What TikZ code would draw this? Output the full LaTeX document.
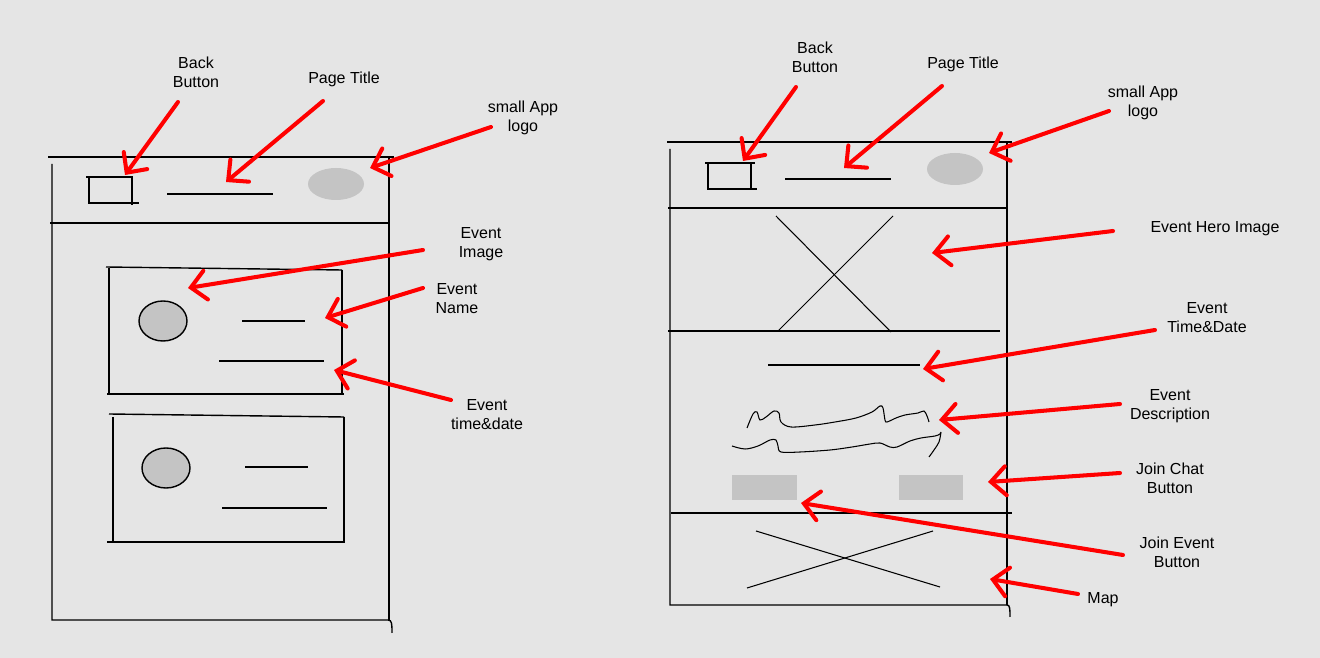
\documentclass[tikz,border=0pt]{standalone}
\usepackage{fontspec}
\setmainfont{Liberation Sans}
\usetikzlibrary{arrows.meta}
\definecolor{bgc}{HTML}{E5E5E5}
\definecolor{boxgray}{HTML}{C4C4C4}
\definecolor{arred}{HTML}{FF0000}
\tikzset{
  sk/.style={line width=0.8pt, black},
  thin sk/.style={line width=0.6pt, black},
  callout/.style={line width=2.3pt, arred, line cap=round,
    -{Straight Barb[length=8.5pt,width=16.5pt,line cap=round]}},
  lbl/.style={align=center, font=\fontsize{9.1}{10.8}\selectfont, inner sep=0pt, yshift=-1.5pt},
}
\begin{document}
\begin{tikzpicture}[x=0.02cm,y=-0.02cm]
\fill[bgc] (0,0) rectangle (1320,658);
\useasboundingbox (0,0) rectangle (1320,658);

%%%%%%%%%%%%%%%% LEFT MOCKUP
\draw[sk] (48,157) -- (394,157);
\draw[sk] (52,164) -- (52,620) -- (388,620) .. controls (392,620) and (392,624) .. (392,633);
\draw[sk] (389,157) -- (389,620);
\draw[sk] (50,223) -- (389,223);
% back button
\draw[sk] (86,177) -- (133,177);
\draw[sk] (89,177) -- (89,203) -- (139,203);
\draw[sk] (132,177) -- (132,205);
% title line
\draw[sk] (167,194) -- (273,194);
% logo
\fill[boxgray] (336,184) ellipse [x radius=28, y radius=16];
% card 1
\draw[sk] (106,267) -- (342,270);
\draw[sk] (109,268) -- (109,394);
\draw[sk] (342,270) -- (342,394);
\draw[sk] (107,394) -- (344,394);
\draw[sk, fill=boxgray] (163,321) ellipse [x radius=24, y radius=20];
\draw[sk] (242,321) -- (305,321);
\draw[sk] (219,361) -- (324,361);
% card 2
\draw[sk] (109,414) -- (344,417);
\draw[sk] (113,417) -- (113,542);
\draw[sk] (344,417) -- (344,542);
\draw[sk] (107,542) -- (345,542);
\draw[sk, fill=boxgray] (166,468) ellipse [x radius=24, y radius=20];
\draw[sk] (245,467) -- (308,467);
\draw[sk] (222,508) -- (327,508);

% labels left
\node[lbl] (lback) at (196,70) {Back\\Button};
\node[lbl] (ltitle) at (344,77) {Page Title};
\node[lbl] (llogo) at (523,115) {small App\\logo};
\node[lbl] (limg) at (481,242) {Event\\Image};
\node[lbl] (lname) at (457,296) {Event\\Name};
\node[lbl] (ltime) at (487,412) {Event\\time\&date};

% arrow coordinates left
\coordinate (a1s) at (178,102); \coordinate (a1e) at (125,175);
\coordinate (a2s) at (323,101); \coordinate (a2e) at (226,182);
\coordinate (a3s) at (491,127); \coordinate (a3e) at (370,168);
\coordinate (a4s) at (423,250); \coordinate (a4e) at (188,288);
\coordinate (a5s) at (423,288); \coordinate (a5e) at (325,318);
\coordinate (a6s) at (451,400); \coordinate (a6e) at (334,370);
\foreach \i in {1,...,6} \draw[callout] (a\i s) -- (a\i e);

%%%%%%%%%%%%%%%% RIGHT MOCKUP
\draw[sk] (667,142) -- (1012,142);
\draw[sk] (670,149) -- (670,605) -- (1007,605) .. controls (1010,605) and (1010,609) .. (1010,617);
\draw[sk] (1007,142) -- (1007,605);
\draw[sk] (668,208) -- (1007,208);
% back button
\draw[sk] (705,163) -- (755,163);
\draw[sk] (708,163) -- (708,189) -- (757,189);
\draw[sk] (751,163) -- (751,190);
% title line
\draw[sk] (785,179) -- (891,179);
% logo
\fill[boxgray] (955,169) ellipse [x radius=28, y radius=16];
% hero
\draw[thin sk] (776,216) -- (891,332);
\draw[thin sk] (893,216) -- (778,331);
\draw[sk] (668,331) -- (1000,331);
% time line
\draw[sk] (768,365) -- (920,365);
% description squiggles
\draw[thin sk] plot[smooth, tension=0.55] coordinates {(747,428) (753,414) (757,412) (760,420) (766,417) (774,411) (779,413) (781,422) (791,427) (815,425) (835,422) (856,418) (872,412) (880,406) (883,408) (885,420) (887,422) (896,418) (905,415) (918,413) (924,411) (927,416) (929,422)};
\draw[thin sk] plot[smooth, tension=0.55] coordinates {(732,446) (745,449) (758,446) (770,440) (776,440) (778,446) (781,452) (800,452) (830,450) (852,447) (870,444) (880,443) (890,447) (897,447) (910,441) (921,438) (935,436) (940,434) (941,432) (939,442) (934,450) (929,457)};
% buttons
\fill[boxgray] (732,475) rectangle (797,500);
\fill[boxgray] (899,475) rectangle (963,500);
% map
\draw[sk] (671,513) -- (1012,513);
\draw[thin sk] (756,531) -- (940,587);
\draw[thin sk] (747,588) -- (933,531);

% labels right
\node[lbl] (rback) at (815,55) {Back\\Button};
\node[lbl] (rtitle) at (963,62) {Page Title};
\node[lbl] (rlogo) at (1143,100) {small App\\logo};
\node[lbl] (rhero) at (1215,226) {Event Hero Image};
\node[lbl] (rtime) at (1207,315) {Event\\Time\&Date};
\node[lbl] (rdesc) at (1170,404) {Event\\Description};
\node[lbl] (rchat) at (1170,476) {Join Chat\\Button};
\node[lbl] (rjoin) at (1177,550) {Join Event\\Button};
\node[lbl] (rmap) at (1103,597) {Map};

% arrow coordinates right
\coordinate (b1s) at (796,87);   \coordinate (b1e) at (743,161);
\coordinate (b2s) at (942,86);   \coordinate (b2e) at (844,168);
\coordinate (b3s) at (1109,111); \coordinate (b3e) at (989,153);
\coordinate (b4s) at (1113,231); \coordinate (b4e) at (932,253);
\coordinate (b5s) at (1155,330); \coordinate (b5e) at (923,369);
\coordinate (b6s) at (1120,404); \coordinate (b6e) at (939,420);
\coordinate (b7s) at (1120,473); \coordinate (b7e) at (988,482);
\coordinate (b8s) at (1123,555); \coordinate (b8e) at (801,503);
\coordinate (b9s) at (1078,594); \coordinate (b9e) at (990,579);
\foreach \i in {1,...,9} \draw[callout] (b\i s) -- (b\i e);
\end{tikzpicture}
\end{document}
